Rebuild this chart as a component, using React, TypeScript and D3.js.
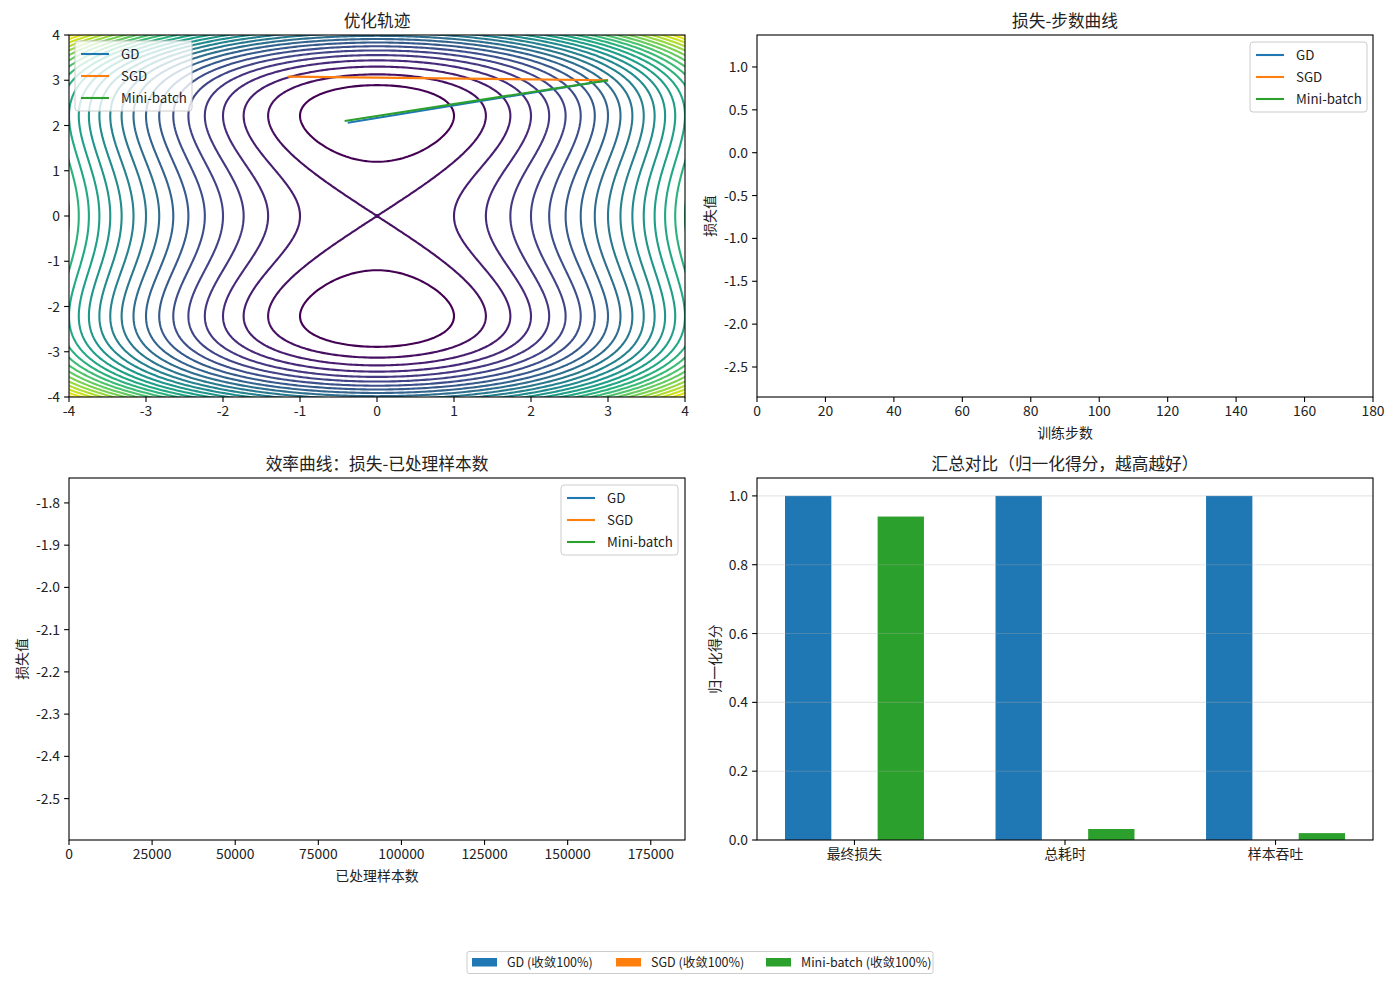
import { useMemo } from 'react';
import * as d3 from 'd3';

const FONT = '"Noto Sans CJK SC", "Noto Sans", sans-serif';

const methodNames = ['GD', 'SGD', 'Mini-batch'];
const methodColors = ['#1f77b4', '#ff7f0e', '#2ca02c'];

// trajectories, (x, y) pairs
const gdTrajectory: [number, number][] = [[3.0, 3.0], [-0.38, 2.06]];
const sgdTrajectory: [number, number][] = [[3.0, 3.0], [-1.16, 3.08]];
const miniTrajectory: [number, number][] = [[3.0, 3.0], [-0.42, 2.1]];

const contourLevels = [1, 2, 3, 4, 5, 6, 7, 8, 9, 10, 11, 12, 13, 14, 15, 16, 17, 18, 19, 20, 21, 22, 23, 24, 25, 26];

// tick values
const contourTicks = [-4, -3, -2, -1, 0, 1, 2, 3, 4];
const stepTicks = [0, 20, 40, 60, 80, 100, 120, 140, 160, 180];
const lossTicksTop = [1.0, 0.5, 0.0, -0.5, -1.0, -1.5, -2.0, -2.5];
const sampleTicks = [0, 25000, 50000, 75000, 100000, 125000, 150000, 175000];
const lossTicksBottom = [-1.8, -1.9, -2.0, -2.1, -2.2, -2.3, -2.4, -2.5];
const scoreTicks = [0.0, 0.2, 0.4, 0.6, 0.8, 1.0];

// summary bars
const summaryCategories = ['最终损失', '总耗时', '样本吞吐'];
const gdScores = [1.0, 1.0, 1.0];
const sgdScores = [0.0, 0.0, 0.0];
const miniScores = [0.94, 0.032, 0.02];

const figureLegendLabels = ['GD (收敛100%)', 'SGD (收敛100%)', 'Mini-batch (收敛100%)'];

// objective surface behind the trajectories (double well along y, saddle at origin = 2)
const WELL = 4.9;
function objective(x: number, y: number) {
  const d = (y * y - WELL) / WELL;
  return x * x + 2 * d * d;
}

type Box = { left: number; right: number; top: number; bottom: number };
const TL: Box = { left: 69, right: 685, top: 35, bottom: 397 };
const TR: Box = { left: 757, right: 1373, top: 35, bottom: 397 };
const BL: Box = { left: 69, right: 685, top: 478, bottom: 840 };
const BR: Box = { left: 757, right: 1373, top: 478, bottom: 840 };

const TICK_FS = 13.9;
const TITLE_FS = 16.7;

interface FrameProps {
  box: Box;
  xPos: (v: number) => number;
  yPos: (v: number) => number;
  xTicks: number[];
  yTicks: number[];
  xFormat: (v: number) => string;
  yFormat: (v: number) => string;
  title: string;
  xLabel?: string;
  yLabel?: string;
  yLabelX?: number;
}

function Frame({ box, xPos, yPos, xTicks, yTicks, xFormat, yFormat, title, xLabel, yLabel, yLabelX }: FrameProps) {
  const cx = (box.left + box.right) / 2;
  const cy = (box.top + box.bottom) / 2;
  return (
    <g>
      <rect
        x={box.left}
        y={box.top}
        width={box.right - box.left}
        height={box.bottom - box.top}
        fill="none"
        stroke="#000"
        strokeWidth={1.1}
      />
      {xTicks.map((t) => {
        const px = xPos(t);
        return (
          <g key={'x' + t}>
            <line x1={px} x2={px} y1={box.bottom} y2={box.bottom + 4.9} stroke="#000" strokeWidth={1.1} />
            <text x={px} y={box.bottom + 19} textAnchor="middle" fontSize={TICK_FS}>
              {xFormat(t)}
            </text>
          </g>
        );
      })}
      {yTicks.map((t) => {
        const py = yPos(t);
        return (
          <g key={'y' + t}>
            <line x1={box.left - 4.9} x2={box.left} y1={py} y2={py} stroke="#000" strokeWidth={1.1} />
            <text x={box.left - 9} y={py + 5} textAnchor="end" fontSize={TICK_FS}>
              {yFormat(t)}
            </text>
          </g>
        );
      })}
      <text x={cx} y={box.top - 8} textAnchor="middle" fontSize={TITLE_FS}>
        {title}
      </text>
      {xLabel && (
        <text x={cx} y={box.bottom + 41} textAnchor="middle" fontSize={TICK_FS}>
          {xLabel}
        </text>
      )}
      {yLabel && (
        <text
          transform={`translate(${yLabelX},${cy}) rotate(-90)`}
          textAnchor="middle"
          fontSize={TICK_FS}
        >
          {yLabel}
        </text>
      )}
    </g>
  );
}

function LineLegend({ x, y }: { x: number; y: number }) {
  return (
    <g>
      <rect x={x} y={y} width={117} height={70} rx={3} fill="#fff" fillOpacity={0.8} stroke="#cccccc" strokeWidth={1} />
      {methodNames.map((name, i) => {
        const ry = y + 13 + i * 22;
        return (
          <g key={name}>
            <line x1={x + 6} x2={x + 34} y1={ry} y2={ry} stroke={methodColors[i]} strokeWidth={2.1} />
            <text x={x + 46} y={ry + 5} fontSize={13.3}>
              {name}
            </text>
          </g>
        );
      })}
    </g>
  );
}

// matplotlib here shows a plain hyphen for negatives
const fmt1 = (v: number) => d3.format('.1f')(v).replace('\u2212', '-');
const fmtInt = (v: number) => String(v);

export default function App() {
  // contour panel
  const cx = d3.scaleLinear().domain([-4, 4]).range([TL.left, TL.right]);
  const cy = d3.scaleLinear().domain([-4, 4]).range([TL.bottom, TL.top]);

  const contourPaths = useMemo(() => {
    const N = 240;
    const lo = -4.2;
    const hi = 4.2;
    const step = (hi - lo) / (N - 1);
    const values = new Array(N * N);
    for (let j = 0; j < N; j++) {
      for (let i = 0; i < N; i++) {
        values[j * N + i] = objective(lo + i * step, lo + j * step);
      }
    }
    const gen = d3.contours().size([N, N]).thresholds(contourLevels);
    const color = d3
      .scaleSequential(d3.interpolateViridis)
      .domain([contourLevels[0], contourLevels[contourLevels.length - 1]]);
    return gen(values).map((c) => {
      const d = c.coordinates
        .map((poly) =>
          poly
            .map(
              (ring) =>
                'M' +
                ring
                  .map((p) => `${cx(lo + (p[0] - 0.5) * step).toFixed(2)},${cy(lo + (p[1] - 0.5) * step).toFixed(2)}`)
                  .join('L') +
                'Z'
            )
            .join('')
        )
        .join('');
      return { d, color: color(c.value), value: c.value };
    });
  }, []);

  const trajLine = d3
    .line<[number, number]>()
    .x((p) => cx(p[0]))
    .y((p) => cy(p[1]));
  const trajectories = [gdTrajectory, sgdTrajectory, miniTrajectory];

  // loss vs step (empty)
  const sx = d3.scaleLinear().domain([0, 180]).range([TR.left, TR.right]);
  const sy = d3.scaleLinear().domain([-2.85, 1.373]).range([TR.bottom, TR.top]);

  // loss vs samples (empty)
  const ex = d3.scaleLinear().domain([0, 185300]).range([BL.left, BL.right]);
  const ey = d3.scaleLinear().domain([-2.598, -1.741]).range([BL.bottom, BL.top]);

  // summary bars
  const bx = d3.scaleLinear().domain([-0.463, 2.463]).range([BR.left, BR.right]);
  const by = d3.scaleLinear().domain([0, 1.052]).range([BR.bottom, BR.top]);
  const barWidth = 0.22;
  const barSeries = [gdScores, sgdScores, miniScores];

  return (
    <svg
      width={1400}
      height={1000}
      style={{ position: 'absolute', left: 0, top: 0, background: '#fff' }}
      fontFamily={FONT}
      fill="#222"
    >
      <defs>
        <clipPath id="clipTL">
          <rect x={TL.left} y={TL.top} width={TL.right - TL.left} height={TL.bottom - TL.top} />
        </clipPath>
        <clipPath id="clipBR">
          <rect x={BR.left} y={BR.top} width={BR.right - BR.left} height={BR.bottom - BR.top} />
        </clipPath>
      </defs>
      <rect width={1400} height={1000} fill="#fff" />

      {/* 优化轨迹 */}
      <g clipPath="url(#clipTL)">
        {contourPaths.map((c) => (
          <path key={c.value} d={c.d} fill="none" stroke={c.color} strokeWidth={2.1} />
        ))}
        {trajectories.map((t, i) => (
          <path key={methodNames[i]} d={trajLine(t) ?? ''} fill="none" stroke={methodColors[i]} strokeWidth={2.1} />
        ))}
      </g>
      <Frame
        box={TL}
        xPos={cx}
        yPos={cy}
        xTicks={contourTicks}
        yTicks={contourTicks}
        xFormat={fmtInt}
        yFormat={fmtInt}
        title="优化轨迹"
      />
      <LineLegend x={75} y={41} />

      {/* 损失-步数曲线 */}
      <Frame
        box={TR}
        xPos={sx}
        yPos={sy}
        xTicks={stepTicks}
        yTicks={lossTicksTop}
        xFormat={fmtInt}
        yFormat={fmt1}
        title="损失-步数曲线"
        xLabel="训练步数"
        yLabel="损失值"
        yLabelX={715}
      />
      <LineLegend x={1250} y={42} />

      {/* 效率曲线 */}
      <Frame
        box={BL}
        xPos={ex}
        yPos={ey}
        xTicks={sampleTicks}
        yTicks={lossTicksBottom}
        xFormat={fmtInt}
        yFormat={fmt1}
        title="效率曲线：损失-已处理样本数"
        xLabel="已处理样本数"
        yLabel="损失值"
        yLabelX={27}
      />
      <LineLegend x={561} y={485} />

      {/* 汇总对比 */}
      <g clipPath="url(#clipBR)">
        {barSeries.map((series, s) =>
          series.map((v, i) => {
            const x0 = bx(i + (s - 1) * barWidth - barWidth / 2);
            const x1 = bx(i + (s - 1) * barWidth + barWidth / 2);
            return (
              <rect
                key={`${s}-${i}`}
                x={x0}
                y={by(v)}
                width={x1 - x0}
                height={by(0) - by(v)}
                fill={methodColors[s]}
              />
            );
          })
        )}
        {scoreTicks.map((t) => (
          <line
            key={t}
            x1={BR.left}
            x2={BR.right}
            y1={by(t)}
            y2={by(t)}
            stroke="#b0b0b0"
            strokeOpacity={0.3}
            strokeWidth={1.1}
          />
        ))}
      </g>
      <Frame
        box={BR}
        xPos={bx}
        yPos={by}
        xTicks={[0, 1, 2]}
        yTicks={scoreTicks}
        xFormat={(i) => summaryCategories[i]}
        yFormat={fmt1}
        title="汇总对比（归一化得分，越高越好）"
        yLabel="归一化得分"
        yLabelX={720}
      />

      {/* figure legend */}
      <g>
        <rect x={467} y={951.5} width={466} height={22} rx={2} fill="#fff" stroke="#cccccc" strokeWidth={1} />
        {figureLegendLabels.map((label, i) => {
          const px = [472, 616, 766][i];
          return (
            <g key={label}>
              <rect x={px} y={958} width={25} height={8.5} fill={methodColors[i]} />
              <text x={px + 35} y={966.5} fontSize={12.5}>
                {label}
              </text>
            </g>
          );
        })}
      </g>
    </svg>
  );
}
